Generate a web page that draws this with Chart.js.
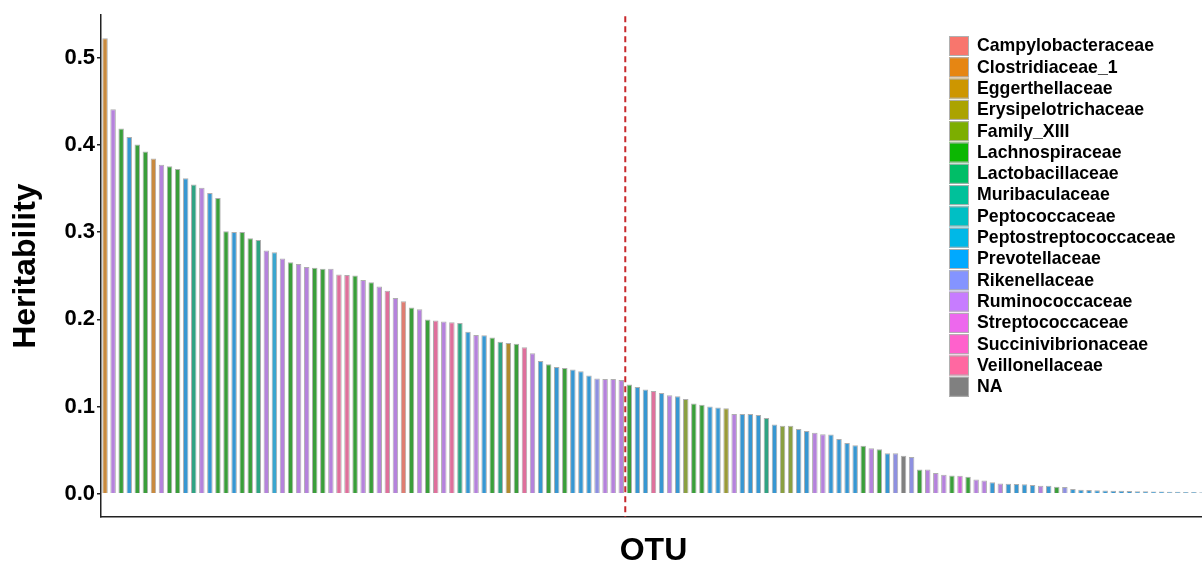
<!DOCTYPE html>
<html>
<head>
<meta charset="utf-8">
<script src="https://cdn.jsdelivr.net/npm/chart.js@4.4.1/dist/chart.umd.min.js"></script>
<style>
html, body { margin: 0; padding: 0; background: #ffffff; overflow: hidden; width: 1202px; height: 570px; }
#wrap { position: absolute; left: 0; top: 0; width: 1206px; height: 570px; }
</style>
</head>
<body>
<div id="wrap"><canvas id="c" width="1206" height="570"></canvas></div>
<script>
// ---- data ----
const heritability = [
  0.522, 0.4406, 0.4187, 0.4089, 0.4002, 0.3923, 0.3843, 0.3771, 0.3753, 0.3722,
  0.3617, 0.3545, 0.3507, 0.3447, 0.339, 0.3008, 0.300, 0.300, 0.2929, 0.291,
  0.279, 0.277, 0.2698, 0.2653, 0.2634, 0.260, 0.2592, 0.258, 0.258, 0.2513,
  0.2509, 0.2501, 0.2452, 0.2426, 0.2376, 0.2327, 0.2245, 0.2207, 0.2135, 0.2116,
  0.1999, 0.1988, 0.1976, 0.1968, 0.1957, 0.1859, 0.1821, 0.1817, 0.1791, 0.1742,
  0.173, 0.1719, 0.1681, 0.161, 0.1523, 0.1485, 0.1455, 0.1443, 0.1424, 0.1406,
  0.1356, 0.1322, 0.1315, 0.1315, 0.1304, 0.1254, 0.1226, 0.1197, 0.1179, 0.1156,
  0.1129, 0.1118, 0.1088, 0.1035, 0.102, 0.1001, 0.099, 0.0982, 0.0914, 0.0914,
  0.0914, 0.0903, 0.0869, 0.0794, 0.0782, 0.0782, 0.0744, 0.0721, 0.070, 0.0684,
  0.068, 0.063, 0.0582, 0.0556, 0.0551, 0.0522, 0.051, 0.0465, 0.0465, 0.0438,
  0.0423, 0.0279, 0.0279, 0.0238, 0.0219, 0.0211, 0.0207, 0.0196, 0.0166, 0.0154,
  0.0132, 0.012, 0.0115, 0.0113, 0.011, 0.0102, 0.0094, 0.0092, 0.0083, 0.008,
  0.0055, 0.0048, 0.0044, 0.0042, 0.0039, 0.0037, 0.0035, 0.0033, 0.0031, 0.003,
  0.0028, 0.0027, 0.0025, 0.0024, 0.0022, 0.0021, 0.002
];

const families = [
  "Clostridiaceae_1","Ruminococcaceae","Lachnospiraceae","Prevotellaceae","Lachnospiraceae","Lachnospiraceae","Clostridiaceae_1","Ruminococcaceae","Lachnospiraceae","Lachnospiraceae",
  "Prevotellaceae","Muribaculaceae","Ruminococcaceae","Prevotellaceae","Lachnospiraceae","Lachnospiraceae","Prevotellaceae","Lachnospiraceae","Lachnospiraceae","Muribaculaceae",
  "Ruminococcaceae","Peptostreptococcaceae","Ruminococcaceae","Lachnospiraceae","Ruminococcaceae","Ruminococcaceae","Lachnospiraceae","Lachnospiraceae","Ruminococcaceae","Veillonellaceae",
  "Veillonellaceae","Lachnospiraceae","Ruminococcaceae","Lachnospiraceae","Ruminococcaceae","Veillonellaceae","Ruminococcaceae","Campylobacteraceae","Lachnospiraceae","Ruminococcaceae",
  "Lachnospiraceae","Veillonellaceae","Ruminococcaceae","Veillonellaceae","Muribaculaceae","Prevotellaceae","Ruminococcaceae","Prevotellaceae","Lachnospiraceae","Muribaculaceae",
  "Eggerthellaceae","Lachnospiraceae","Veillonellaceae","Ruminococcaceae","Prevotellaceae","Lachnospiraceae","Prevotellaceae","Lachnospiraceae","Prevotellaceae","Prevotellaceae",
  "Prevotellaceae","Rikenellaceae","Ruminococcaceae","Ruminococcaceae","Ruminococcaceae","Lachnospiraceae","Prevotellaceae","Prevotellaceae","Veillonellaceae","Prevotellaceae",
  "Ruminococcaceae","Prevotellaceae","Family_XIII","Lachnospiraceae","Lachnospiraceae","Prevotellaceae","Prevotellaceae","Erysipelotrichaceae","Ruminococcaceae","Prevotellaceae",
  "Prevotellaceae","Prevotellaceae","Muribaculaceae","Prevotellaceae","Family_XIII","Family_XIII","Prevotellaceae","Prevotellaceae","Ruminococcaceae","Ruminococcaceae",
  "Prevotellaceae","Prevotellaceae","Prevotellaceae","Prevotellaceae","Lachnospiraceae","Ruminococcaceae","Lachnospiraceae","Prevotellaceae","Rikenellaceae","NA",
  "Rikenellaceae","Lachnospiraceae","Ruminococcaceae","Ruminococcaceae","Ruminococcaceae","Lachnospiraceae","Streptococcaceae","Lachnospiraceae","Ruminococcaceae","Ruminococcaceae",
  "Prevotellaceae","Ruminococcaceae","Prevotellaceae","Prevotellaceae","Prevotellaceae","Prevotellaceae","Ruminococcaceae","Prevotellaceae","Lachnospiraceae","Rikenellaceae",
  "Prevotellaceae","Prevotellaceae","Prevotellaceae","Prevotellaceae","Prevotellaceae","Prevotellaceae","Prevotellaceae","Prevotellaceae","Prevotellaceae","Prevotellaceae",
  "Prevotellaceae","Prevotellaceae","Prevotellaceae","Prevotellaceae","Prevotellaceae","Prevotellaceae","Prevotellaceae"
];

const legendNames = [
  "Campylobacteraceae","Clostridiaceae_1","Eggerthellaceae","Erysipelotrichaceae","Family_XIII",
  "Lachnospiraceae","Lactobacillaceae","Muribaculaceae","Peptococcaceae","Peptostreptococcaceae",
  "Prevotellaceae","Rikenellaceae","Ruminococcaceae","Streptococcaceae","Succinivibrionaceae",
  "Veillonellaceae","NA"
];
const legendColors = [
  "#F8766D","#E68613","#CD9600","#ABA300","#7CAE00",
  "#0CB702","#00BE67","#00C19A","#00BFC4","#00B8E7",
  "#00A9FF","#8494FF","#C77CFF","#ED68ED","#FF61CC",
  "#FF68A1","#808080"
];
// bar fills as they appear in the picture (muted)
const barColors = [
  "#df7d72","#c98a3e","#b08a2e","#9a9a38","#8aa040",
  "#3a9e3a","#33a867","#2fa383","#2fa8a8","#3aa6cf",
  "#3797d2","#8e90e0","#b582dc","#c766d6","#e066c0",
  "#df709c","#808080"
];
const yTicks = [0.0, 0.1, 0.2, 0.3, 0.4, 0.5];
const cutIndex = 64.5; // dashed line between OTU 65 and 66

const labels = heritability.map((_, i) => "OTU" + (i + 1));
const colorOf = name => barColors[legendNames.indexOf(name)];

const FONT = "Arial, 'Liberation Sans', sans-serif";

const overlay = {
  id: 'overlay',
  afterDatasetsDraw(chart) {
    const {ctx, chartArea, scales} = chart;
    const x = scales.x.getPixelForValue(cutIndex);
    ctx.save();
    ctx.strokeStyle = '#c8282c';
    ctx.lineWidth = 2;
    ctx.setLineDash([6, 4]);
    ctx.beginPath();
    ctx.moveTo(x, chartArea.top + 1);
    ctx.lineTo(x, chartArea.bottom);
    ctx.stroke();
    ctx.restore();
  },
  afterDraw(chart) {
    const ctx = chart.ctx;
    const x0 = 949, y0 = 36, step = 21.3, size = 20;
    ctx.save();
    ctx.font = "bold 17.7px " + FONT;
    ctx.textBaseline = 'middle';
    ctx.textAlign = 'left';
    legendNames.forEach((name, i) => {
      const y = y0 + i * step;
      ctx.fillStyle = legendColors[i];
      ctx.fillRect(x0, y, size, size);
      ctx.strokeStyle = '#b0b0b0';
      ctx.lineWidth = 1;
      ctx.strokeRect(x0 + 0.5, y + 0.5, size - 1, size - 1);
      ctx.fillStyle = '#000';
      ctx.fillText(name, x0 + 28, y + size / 2 + 0.5);
    });
    ctx.restore();
  }
};

new Chart(document.getElementById('c'), {
  type: 'bar',
  data: {
    labels: labels,
    datasets: [{
      label: 'Heritability',
      data: heritability,
      backgroundColor: families.map(colorOf),
      borderColor: 'rgba(120,120,120,0.6)',
      borderWidth: 1,
      barPercentage: 0.68,
      categoryPercentage: 1.0
    }]
  },
  options: {
    responsive: false,
    animation: false,
    devicePixelRatio: 1,
    layout: { padding: { top: 10, left: 0, right: 0, bottom: 0 } },
    plugins: { legend: { display: false }, tooltip: { enabled: false } },
    scales: {
      x: {
        offset: true,
        grid: { display: false },
        border: { display: true, color: '#222', width: 1.5 },
        ticks: { display: false },
        title: { display: true, text: 'OTU', color: '#000', font: { family: FONT, size: 32, weight: 'bold' }, padding: 0 },
        afterFit(s) { s.height = 53; }
      },
      y: {
        min: -0.0265,
        max: 0.5485,
        afterBuildTicks(s) { s.ticks = yTicks.map(v => ({ value: v })); },
        grid: { drawOnChartArea: false, drawTicks: true, tickLength: 4, color: '#222', lineWidth: 1.5 },
        border: { display: true, color: '#222', width: 1.5 },
        ticks: {
          color: '#000', padding: 2,
          font: { family: FONT, size: 22, weight: 'bold' },
          callback: v => Number(v).toFixed(1)
        },
        title: { display: true, text: 'Heritability', color: '#000', font: { family: FONT, size: 32, weight: 'bold' }, padding: { top: 7, bottom: 0 } },
        afterFit(s) { s.width = 101; }
      }
    }
  },
  plugins: [overlay]
});
</script>
</body>
</html>
